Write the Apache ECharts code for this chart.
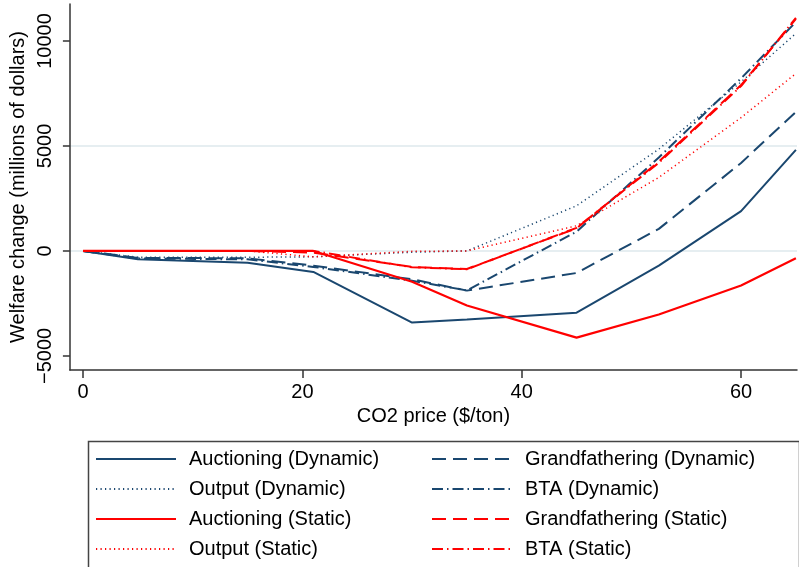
<!DOCTYPE html>
<html>
<head>
<meta charset="utf-8">
<script src="https://cdn.jsdelivr.net/npm/echarts@6/dist/echarts.min.js"></script>
<style>
html,body{margin:0;padding:0;background:#fff;}
#chart{width:799px;height:567px;}
</style>
</head>
<body>
<div id="chart"></div>
<script>
// CO2 price ($/ton)
var xs = [0, 5, 15, 21, 30, 35, 45, 52.5, 60, 65];
// Welfare change (millions of dollars)
var auctDyn  = [0, -400, -560, -1000, -3410, -3260, -2940, -700, 1900, 4810];
var grandDyn = [0, -330, -350, -700, -1350, -1890, -1050, 1050, 4190, 6620];
var outDyn   = [0, -300, -300, -280, -60, 0, 2150, 4850, 8050, 10360];
var btaDyn   = [0, -360, -400, -760, -1420, -1880, 920, 4450, 8220, 10900];
var auctSta  = [0, 0, 0, 0, -1470, -2600, -4130, -3030, -1650, -350];
var grandSta = [0, 0, 0, -80, -760, -860, 1080, 4250, 7900, 11050];
var outSta   = [0, 0, 0, -280, -20, 0, 1200, 3500, 6350, 8450];
var btaSta   = [0, 0, 0, 0, -780, -870, 1100, 4200, 7850, 11100];

var xTicks = [0, 20, 40, 60];
var yTicks = [-5000, 0, 5000, 10000];

var NAVY = '#1a476f', RED = '#ff0000';
var FONT = "'Liberation Sans', Arial, sans-serif";
var FS = 20;
var SOLID = 'solid', DASH = [14, 7], DOT = [1.2, 3.3], DASHDOT = [11, 4, 1.5, 4];

function pts(v){ return xs.map(function(x,i){ return [x, v[i]]; }); }
function ser(name, vals, color, type, width){
  return {name:name, type:'line', data:pts(vals), symbol:'none', showSymbol:false,
    lineStyle:{color:color, type:type, width:width}, itemStyle:{color:color}, animation:false};
}
function fmtNum(v){ return v < 0 ? '\u2212' + (-v) : String(v); }

var series = [
  ser('Auctioning (Dynamic)', auctDyn, NAVY, SOLID, 2),
  ser('Grandfathering (Dynamic)', grandDyn, NAVY, DASH, 2),
  ser('Output (Dynamic)', outDyn, NAVY, DOT, 1.5),
  ser('BTA (Dynamic)', btaDyn, NAVY, DASHDOT, 2),
  ser('Auctioning (Static)', auctSta, RED, SOLID, 2.2),
  ser('Grandfathering (Static)', grandSta, RED, DASH, 2),
  ser('Output (Static)', outSta, RED, DOT, 1.5),
  ser('BTA (Static)', btaSta, RED, DASHDOT, 2)
];

var legendCommon = {
  orient:'vertical', top:449, height:118, padding:0, itemWidth:80, itemHeight:20, itemGap:10,
  selectedMode:false,
  itemStyle:{opacity:0, borderWidth:0},
  textStyle:{fontFamily:FONT, fontSize:FS, color:'#000', lineHeight:20, padding:[0,0,0,8]}
};

var chart = echarts.init(document.getElementById('chart'), null, {renderer:'canvas'});
chart.setOption({
  backgroundColor:'#fff',
  animation:false,
  grid:{left:69, top:4, width:728, height:366, containLabel:false},
  xAxis:{
    type:'value', min:-1.2, max:65.1,
    name:'CO2 price ($/ton)', nameLocation:'middle', nameGap:33,
    nameTextStyle:{fontFamily:FONT, fontSize:FS, color:'#000'},
    axisLine:{show:true, onZero:false, lineStyle:{color:'#333', width:1.5}},
    axisTick:{show:true, length:8, customValues:xTicks, lineStyle:{color:'#333', width:1.5}},
    axisLabel:{customValues:xTicks, margin:12, fontFamily:FONT, fontSize:FS, color:'#000', formatter:fmtNum},
    splitLine:{show:false}
  },
  yAxis:{
    type:'value', min:-5670, max:11760,
    name:'Welfare change (millions of dollars)', nameLocation:'middle', nameGap:34, nameRotate:90,
    nameTextStyle:{fontFamily:FONT, fontSize:FS, color:'#000'},
    axisLine:{show:true, onZero:false, lineStyle:{color:'#333', width:1.5}},
    axisTick:{show:true, length:7, customValues:yTicks, lineStyle:{color:'#333', width:1.5}},
    axisLabel:{customValues:yTicks, rotate:90, margin:14, fontFamily:FONT, fontSize:FS, color:'#000', formatter:fmtNum},
    splitLine:{show:true, showMinLine:false, showMaxLine:false, lineStyle:{color:'#e6eef1', width:2}}
  },
  legend:[
    Object.assign({}, legendCommon, {left:95, data:['Auctioning (Dynamic)','Output (Dynamic)','Auctioning (Static)','Output (Static)']}),
    Object.assign({}, legendCommon, {left:431, data:['Grandfathering (Dynamic)','BTA (Dynamic)','Grandfathering (Static)','BTA (Static)']})
  ],
  graphic:[{
    type:'rect', left:86, top:439, shape:{x:0, y:0, width:711, height:150},
    style:{fill:'none', stroke:'#444', lineWidth:1.5}, silent:true, z:-1
  }],
  series:series
});
</script>
</body>
</html>
